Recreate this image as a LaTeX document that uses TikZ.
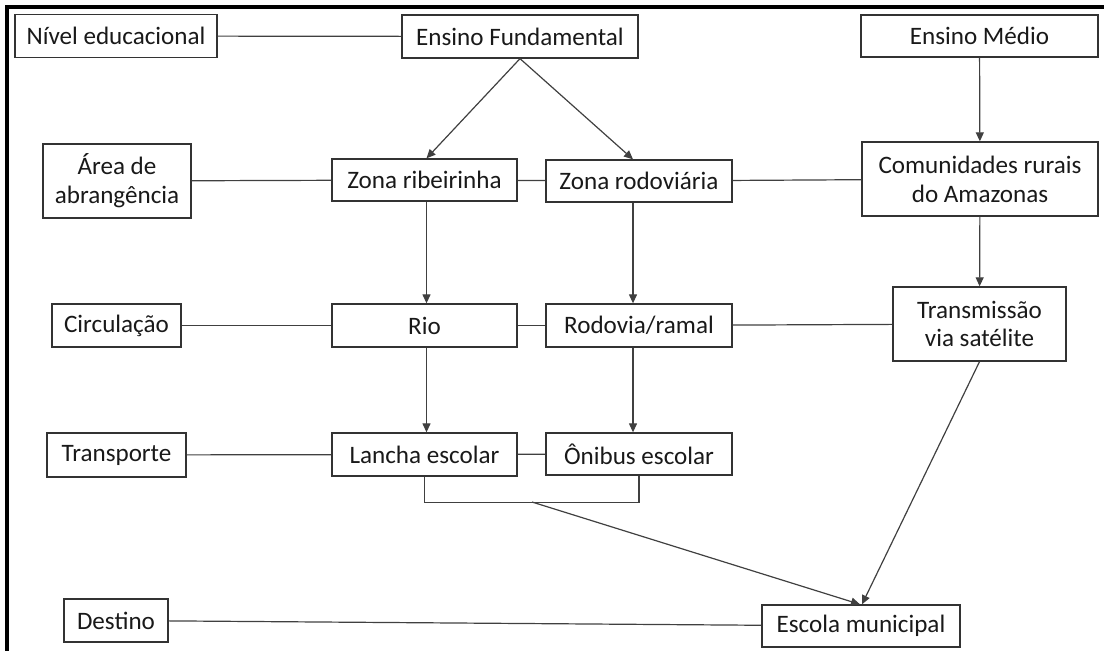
\documentclass[tikz,border=0pt]{standalone}
\usepackage{fontspec}
\setmainfont{Carlito}
\usepackage{tikz}
\usetikzlibrary{arrows.meta}

\begin{document}
\begin{tikzpicture}[x=1bp,y=-1bp,
  caixa/.style={draw=black!80,line width=1.3bp,inner sep=0pt,align=center,
    font=\fontsize{25.2}{29}\selectfont,text=black!90},
  liga/.style={draw=black!75,line width=1.2bp},
  seta/.style={liga,-{Triangle[length=9bp,width=8bp]}}]
  \useasboundingbox (0,0) rectangle (1104,651);
  %frame
  \draw[line width=4bp,line cap=rect] (7,651) -- (7,7) -- (1102,7);

  %top row
  \node[caixa,minimum width=202bp,minimum height=43bp] (nivel) at (116,36) {Nível educacional};
  \node[caixa,minimum width=236bp,minimum height=43bp] (ensfund) at (520,36.5) {Ensino Fundamental};
  \node[caixa,minimum width=237bp,minimum height=42bp] (ensmed) at (979.5,36) {Ensino Médio};

  %second row
  \node[caixa,minimum width=148bp,minimum height=74bp] (area) at (117,181) {Área de\\abrangência};
  \node[caixa,minimum width=185bp,minimum height=42bp] (zrib) at (424.5,180) {Zona ribeirinha};
  \node[caixa,minimum width=186bp,minimum height=42bp] (zrod) at (639,181) {Zona rodoviária};
  \node[caixa,minimum width=236bp,minimum height=74bp] (comun) at (980,179) {Comunidades rurais\\do Amazonas};

  %third row
  \node[caixa,minimum width=129bp,minimum height=43bp] (circ) at (116.5,325.5) {Circulação};
  \node[caixa,minimum width=185bp,minimum height=43bp] (rio) at (424.5,325.5) {Rio};
  \node[caixa,minimum width=186bp,minimum height=43bp] (rod) at (639,325.5) {Rodovia/ramal};
  \node[caixa,minimum width=173bp,minimum height=74bp] (transm) at (979.5,324) {Transmissão\\via satélite};

  %fourth row
  \node[caixa,minimum width=139bp,minimum height=44bp] (transp) at (116.5,455) {Transporte};
  \node[caixa,minimum width=185bp,minimum height=43bp] (lancha) at (424.5,454.5) {Lancha escolar};
  \node[caixa,minimum width=186bp,minimum height=42bp] (onibus) at (639,454) {Ônibus escolar};

  %bottom
  \node[caixa,minimum width=104bp,minimum height=43bp] (destino) at (116,620.5) {Destino};
  \node[caixa,minimum width=198bp,minimum height=42bp] (escola) at (861,626) {Escola municipal};

  %plain links
  \draw[liga] (nivel) -- (ensfund);
  \draw[liga] (area) -- (zrib);
  \draw[liga] (zrib) -- (zrod);
  \draw[liga] (zrod) -- (comun);
  \draw[liga] (circ) -- (rio);
  \draw[liga] (rio) -- (rod);
  \draw[liga] (rod) -- (transm);
  \draw[liga] (transp) -- (lancha);
  \draw[liga] (lancha) -- (onibus);
  \draw[liga] (destino) -- (escola);

  %arrows
  \draw[seta] (ensfund.south) -- ([xshift=2bp]zrib.north);
  \draw[seta] (ensfund.south) -- ([xshift=-6bp]zrod.north);
  \draw[seta] (ensmed) -- (comun);
  \draw[seta] (comun) -- (transm);
  \draw[seta] ([xshift=2bp]zrib.south) -- ([xshift=2bp]rio.north);
  \draw[seta] ([xshift=-6bp]zrod.south) -- ([xshift=-6bp]rod.north);
  \draw[seta] ([xshift=2bp]rio.south) -- ([xshift=2bp]lancha.north);
  \draw[seta] ([xshift=-6bp]rod.south) -- ([xshift=-6bp]onibus.north);

  %join under the buses
  \coordinate (junta) at (532,502);
  \draw[liga] (lancha.south) -- ++(0,26) -| (onibus.south);
  \draw[seta] (junta) -- ([xshift=-1bp]escola.north);
  \draw[seta] (transm.south) -- ([xshift=1bp]escola.north);
\end{tikzpicture}
\end{document}
